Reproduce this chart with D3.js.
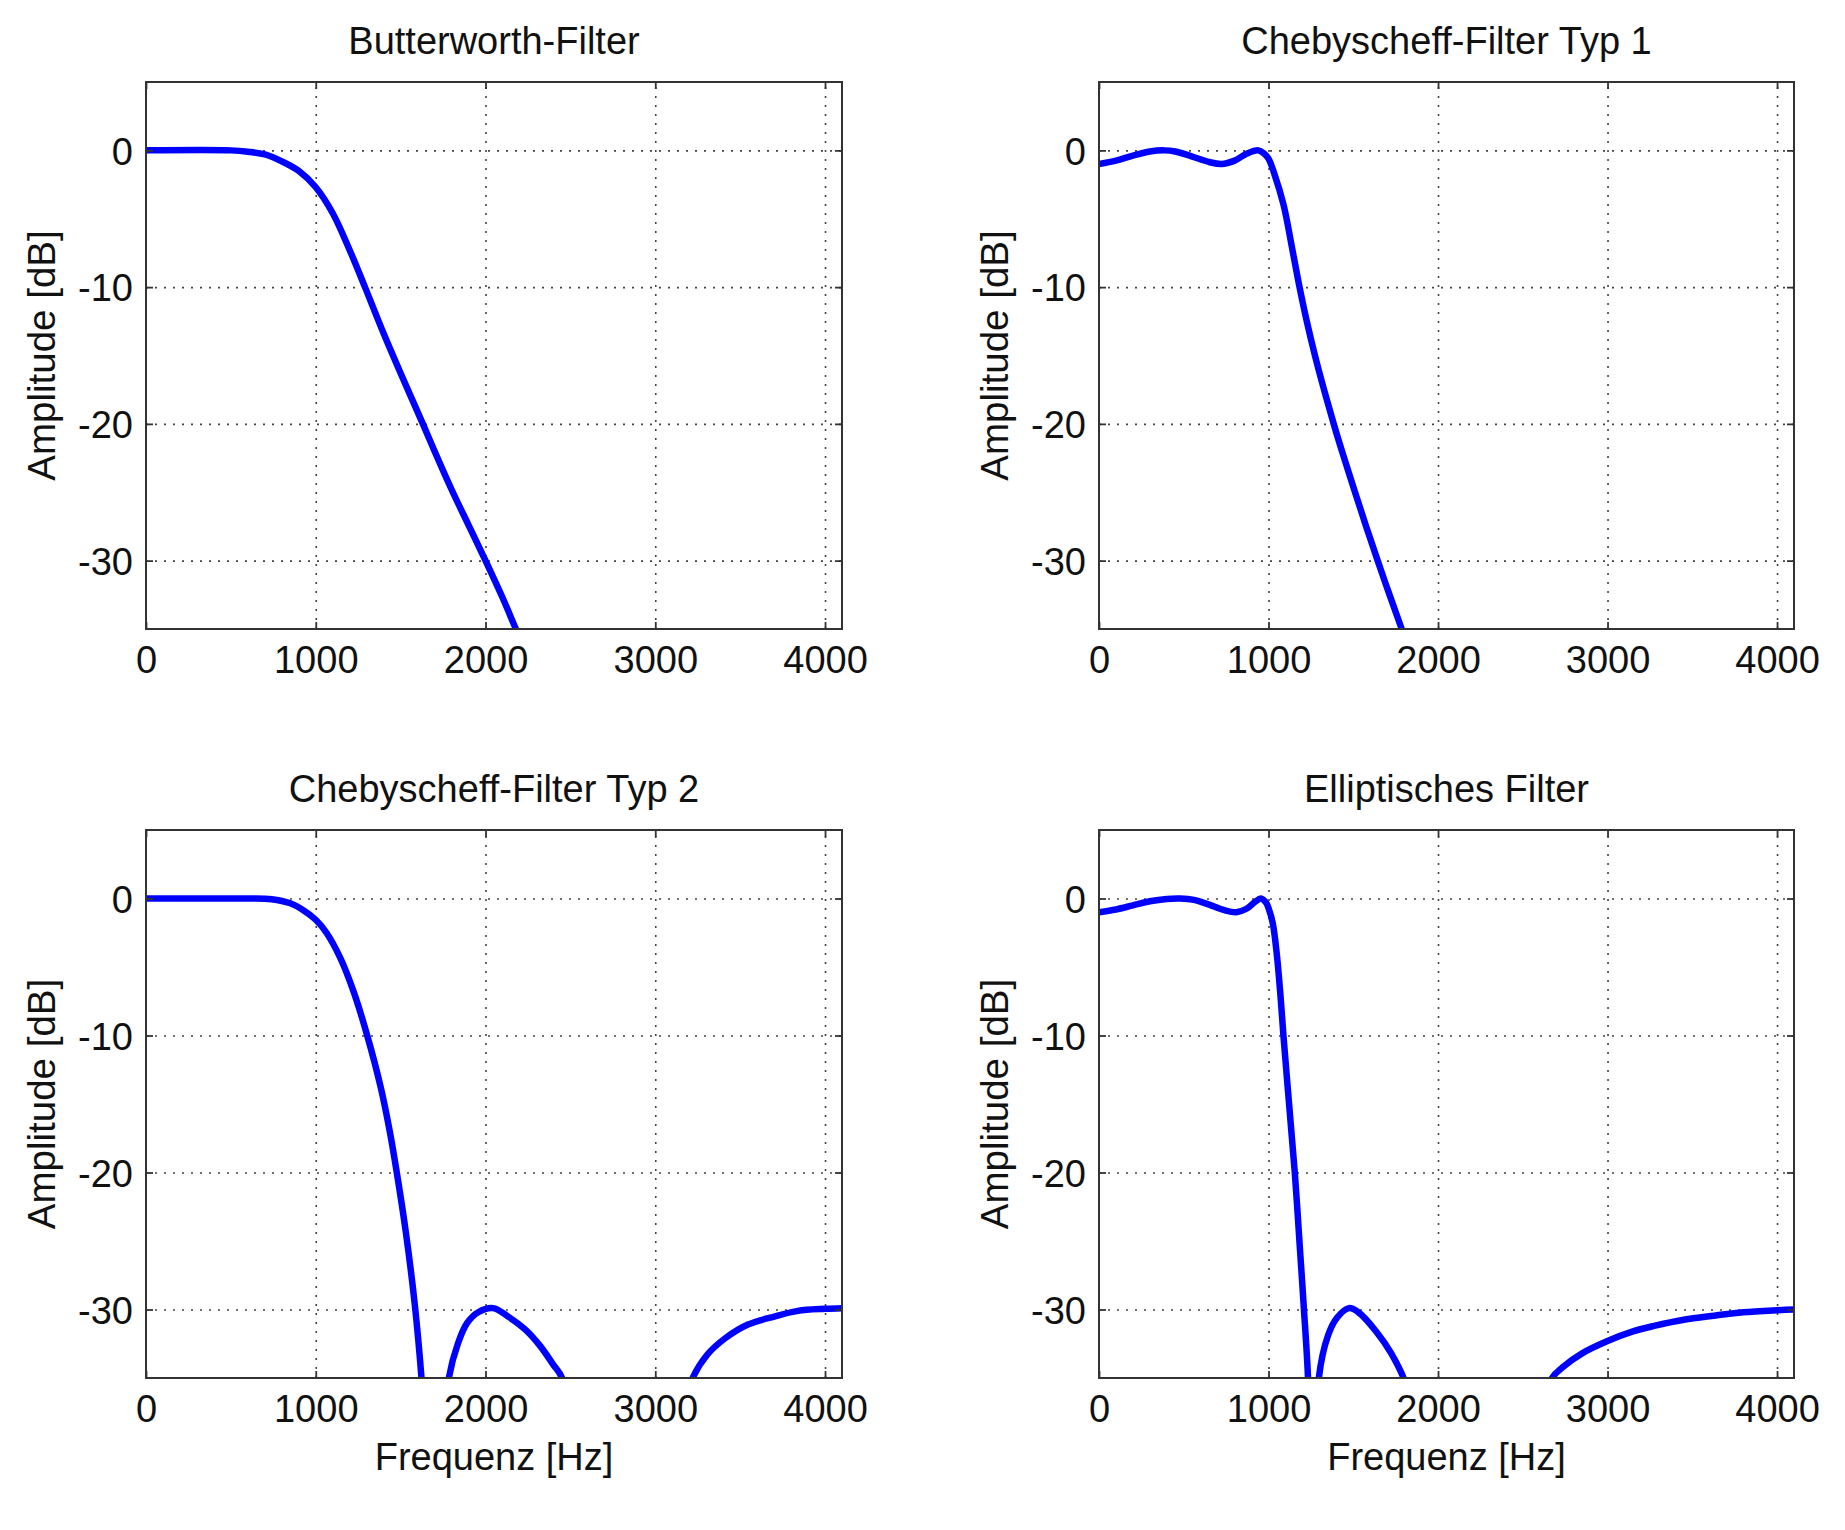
<!DOCTYPE html>
<meta charset="utf-8">
<style>
body { margin: 0; background: #fff; }
text { font-family: "Liberation Sans", Arial, sans-serif; fill: #111; }
.grid line { stroke: #444; stroke-width: 1.6px; stroke-dasharray: 2,7; }
.grid path, .ticks path, .labels path { display: none; }
.ticks line { stroke: #333; stroke-width: 1.8px; }
.frame { fill: none; stroke: #333; stroke-width: 2px; }
.line { fill: none; stroke: #0000ff; stroke-width: 6.5px; stroke-linejoin: round; stroke-linecap: round; }
</style>
<body>
<script src="https://d3js.org/d3.v7.min.js"></script>
<script>

// tick values and labels
var xTicks = [0, 1000, 2000, 3000, 4000];
var yTicks = [0, -10, -20, -30];
var titles = ["Butterworth-Filter", "Chebyscheff-Filter Typ 1", "Chebyscheff-Filter Typ 2", "Elliptisches Filter"];
var yLabel = "Amplitude [dB]";
var xLabel = "Frequenz [Hz]";

// frequency in Hz, amplitude in dB
var butterFreq = [0, 500, 600, 700, 800, 900, 1000, 1100, 1200, 1290, 1400, 1500, 1631, 1700, 1800, 1900, 2000, 2100, 2179, 2260];
var butterDb   = [0, 0, -0.1, -0.3, -0.8, -1.5, -2.7, -4.6, -7.3, -10, -13.4, -16.3, -20, -22, -24.8, -27.4, -30, -32.7, -35, -37.3];

var cheby1Freq = [0, 100, 200, 300, 384, 450, 550, 650, 723, 800, 870, 940, 975, 1000, 1034, 1089, 1143, 1183, 1224, 1278, 1332, 1387, 1441, 1508, 1576, 1644, 1711, 1780, 1850];
var cheby1Db   = [-1.0, -0.75, -0.38, -0.08, 0, -0.08, -0.45, -0.85, -1.0, -0.75, -0.25, 0, -0.25, -0.6, -1.7, -4, -7.4, -10, -12.4, -15.2, -17.7, -20.1, -22.3, -24.9, -27.5, -30, -32.4, -34.8, -37.2];

var cheby2Freq = [0, 300, 600, 740, 850, 920, 1000, 1063, 1143, 1223, 1303, 1383, 1436, 1476, 1530, 1583, 1623, 1650, 1700, 1750, 1784, 1837, 1891, 1957, 2045, 2131, 2238, 2318, 2398, 2451, 2550, 2800, 3100, 3220, 3306, 3412, 3546, 3706, 3840, 4000, 4100];
var cheby2Db   = [0, 0, 0, -0.05, -0.35, -0.8, -1.55, -2.5, -4.3, -6.8, -10, -13.8, -17, -19.9, -24.3, -29.6, -35, -40, -60, -40, -35, -32.5, -31, -30.2, -29.9, -30.5, -31.5, -32.6, -34, -35, -40, -60, -40, -35, -33.3, -32.1, -31.1, -30.5, -30.1, -29.95, -29.9];

var ellipFreq = [0, 100, 200, 300, 400, 480, 560, 650, 740, 810, 870, 920, 955, 985, 1000, 1025, 1050, 1070, 1088, 1120, 1155, 1185, 1209, 1233, 1250, 1265, 1280, 1297, 1351, 1404, 1475, 1530, 1635, 1724, 1806, 1850, 2000, 2200, 2450, 2600, 2673, 2737, 2850, 3000, 3150, 3274, 3450, 3630, 3800, 4000, 4100];
var ellipDb   = [-1.0, -0.8, -0.5, -0.2, -0.03, 0, -0.1, -0.45, -0.85, -1.0, -0.75, -0.25, 0, -0.3, -0.7, -1.8, -4.2, -7, -10, -14.8, -20, -25.5, -30, -35, -45, -60, -45, -35, -31.9, -30.6, -29.9, -30.2, -31.6, -33.2, -35.3, -37.5, -45, -60, -45, -38, -35, -34.2, -33.2, -32.3, -31.6, -31.2, -30.75, -30.45, -30.2, -30.05, -30];

var series = [
  {freq: butterFreq, db: butterDb},
  {freq: cheby1Freq, db: cheby1Db},
  {freq: cheby2Freq, db: cheby2Db},
  {freq: ellipFreq, db: ellipDb}
];

// panel boxes
var cols = [[146, 842], [1099, 1794]];
var rows = [[82, 629], [830, 1378]];

var fmt = function(d) { return String(d); };  // plain hyphen minus, no thousands comma

var svg = d3.select("body").append("svg")
    .attr("width", 1845)
    .attr("height", 1530);

series.forEach(function(s, i) {
  var c = cols[i % 2], r = rows[Math.floor(i / 2)];
  var w = c[1] - c[0], h = r[1] - r[0];

  var x = d3.scaleLinear().domain([0, 4100]).range([0, w]);
  var y = d3.scaleLinear().domain([-35, 5]).range([h, 0]);

  var g = svg.append("g").attr("transform", "translate(" + c[0] + "," + r[0] + ")");

  g.append("clipPath").attr("id", "clip" + i)
    .append("rect").attr("width", w).attr("height", h);

  // dotted grid
  g.append("g").attr("class", "grid")
      .attr("transform", "translate(0," + h + ")")
      .call(d3.axisBottom(x).tickValues(xTicks.slice(1)).tickSize(-h).tickFormat(""));
  g.append("g").attr("class", "grid")
      .call(d3.axisLeft(y).tickValues(yTicks).tickSize(-w).tickFormat(""));

  // curve
  var data = s.freq.map(function(f, k) { return {f: f, v: s.db[k]}; });
  g.append("path")
      .datum(data)
      .attr("class", "line")
      .attr("clip-path", "url(#clip" + i + ")")
      .attr("d", d3.line()
          .x(function(d) { return x(d.f); })
          .y(function(d) { return y(d.v); })
          .curve(d3.curveCatmullRom.alpha(0.5)));

  // inward ticks on all four sides
  g.append("g").attr("class", "ticks").attr("transform", "translate(0," + h + ")")
      .call(d3.axisBottom(x).tickValues(xTicks).tickSize(-7).tickFormat(""));
  g.append("g").attr("class", "ticks")
      .call(d3.axisTop(x).tickValues(xTicks).tickSize(-7).tickFormat(""));
  g.append("g").attr("class", "ticks")
      .call(d3.axisLeft(y).tickValues(yTicks).tickSize(-7).tickFormat(""));
  g.append("g").attr("class", "ticks").attr("transform", "translate(" + w + ",0)")
      .call(d3.axisRight(y).tickValues(yTicks).tickSize(-7).tickFormat(""));

  g.append("rect").attr("class", "frame").attr("width", w).attr("height", h);

  // tick labels
  var xa = g.append("g").attr("class", "labels").attr("transform", "translate(0," + h + ")")
      .call(d3.axisBottom(x).tickValues(xTicks).tickSize(0).tickFormat(fmt));
  xa.selectAll("text").attr("y", 44).attr("dy", null)
      .attr("font-size", 38).attr("font-family", null).attr("fill", null);

  var ya = g.append("g").attr("class", "labels")
      .call(d3.axisLeft(y).tickValues(yTicks).tickSize(0).tickFormat(fmt));
  ya.selectAll("text").attr("x", -13).attr("dy", "0.36em")
      .attr("font-size", 38).attr("font-family", null).attr("fill", null);

  g.append("text")
      .attr("x", w / 2).attr("y", -28)
      .attr("text-anchor", "middle")
      .attr("font-size", 38)
      .text(titles[i]);

  g.append("text")
      .attr("transform", "translate(-91," + (h / 2) + ") rotate(-90)")
      .attr("text-anchor", "middle")
      .attr("font-size", 38.5)
      .text(yLabel);

  if (i >= 2) {
    g.append("text")
        .attr("x", w / 2).attr("y", h + 92)
        .attr("text-anchor", "middle")
        .attr("font-size", 38)
        .text(xLabel);
  }
});

</script>
